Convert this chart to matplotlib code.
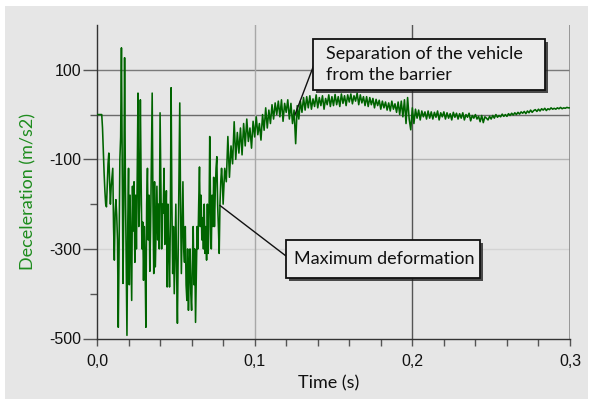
import numpy as np
import matplotlib
matplotlib.use('Agg')
import matplotlib.pyplot as plt
import matplotlib.patheffects as pe
from matplotlib.patches import Rectangle
from matplotlib.ticker import FixedLocator, FuncFormatter

plt.rcParams['axes.unicode_minus'] = False

# crash record, dense part: 0.0 - 0.0795 s, one value every 0.5 ms
dt_fast = 0.0005
decel_fast = [
    0, 0, 0, 0, 0, 0, 0, -30, -80, -130,
    -170, -200, -206, -160, -110, -86, -150, -200, -160, -140,
    -120, -250, -325, -220, -190, -225, -280, -475, -300, -100,
    -50, 149, -100, -377, -200, 127, -150, -320, -493, -250,
    -120, -380, -180, -300, -415, -160, -260, -150, -330, -180,
    -300, -140, 48, -250, -200, 33, -150, -300, -240, -370,
    -250, -330, -475, -200, -120, -280, -180, -350, -250, -100,
    48, -200, -355, -150, -340, -250, -160, -280, -200, -300,
    4, -150, -300, -200, -220, -120, -290, -250, -170, -385,
    -200, -300, -385, -250, 60, -200, -355, -250, -400, -300,
    -200, -350, -466, -300, -150, 26, -200, -355, -250, -150,
    -300, -330, -250, -380, -415, -300, -437, -350, -300, -400,
    -437, -330, -250, -380, -300, -464, -350, -250, -300, -200,
    -117, -250, -180, -280, -230, -300, -200, -310, -250, -325,
    -200, -310, -250, -49, -200, -300, -180, -250, -140, -250,
    -175, -120, -94, -200, -250, -310, -200, -150, -120, -150,
]

# after the barrier phase: 0.080 - 0.300 s, one value every 1 ms
dt_slow = 0.001
t_slow0 = 0.080
decel_slow = [
    -200, -120, -150, -49, -140, -70, -110, -16, -100, -40,
    -86, -30, -90, -20, -70, -10, -60, -30, -75, -15,
    -50, -5, -45, -20, -57, 0, -35, 15, -30, 10,
    -20, 22, -10, 26, 0, 30, -5, 33, -15, 25,
    5, 33, -10, 25, -20, 10, -65, 20, -10, 30,
    5, 38, 10, 40, 15, 42, 12, 35, 18, 44,
    15, 38, 20, 42, 12, 36, 22, 44, 18, 40,
    20, 45, 22, 40, 18, 46, 25, 42, 20, 44,
    28, 46, 24, 42, 30, 48, 22, 44, 26, 40,
    20, 40, 18, 38, 22, 36, 15, 34, 20, 32,
    12, 30, 15, 28, 10, 26, 8, 30, 12, 24,
    5, 28, 0, 30, -5, 33, -20, 38, -10, -34,
    15, -20, 12, -8, 10, -12, 8, -5, 6, -10,
    8, -8, 6, -10, 5, -6, 8, -12, 4, -5,
    6, -10, 4, -8, 2, -12, 5, -6, 3, -10,
    2, -8, 4, -12, 0, -6, 3, -14, -2, -8,
    0, -10, -4, -16, -2, -18, -5, -8, -12, -4,
    -10, -2, -8, 0, -6, -2, -5, 1, -4, 0,
    -4, 2, -2, 3, -1, 4, 0, 5, 1, 6,
    3, 7, 2, 8, 4, 10, 5, 9, 11, 7,
    12, 8, 13, 10, 14, 9, 13, 11, 15, 12,
    14, 12, 15, 13, 16, 13, 15, 14, 16, 15,
    15,
]

yticks_major = [100, -100, -300, -500]
yticks_minor = [-400, -200, 0]
xticks_major = [0.0, 0.1, 0.2, 0.3]
xticks_minor = [0.02, 0.04, 0.06, 0.08, 0.12, 0.14, 0.16, 0.18,
                0.22, 0.24, 0.26, 0.28]

note_max = 'Maximum deformation'
note_sep = 'Separation of the vehicle\nfrom the barrier'
point_max = (0.078, -203)
point_sep = (0.1256, 0)

t_fast = np.arange(len(decel_fast)) * dt_fast
t_slow = t_slow0 + np.arange(len(decel_slow)) * dt_slow
t = np.concatenate([t_fast, t_slow])
decel = np.concatenate([decel_fast, decel_slow])

bg = '#e6e6e6'
green = '#006400'
W, H = 590, 399

fig = plt.figure(figsize=(5.9, 3.99), dpi=100, facecolor='white')
# grey panel with thin white margin on top/left
fig.patches.append(Rectangle((5 / W, 0), 583 / W, (H - 6) / H,
                             transform=fig.transFigure, fc=bg, ec='none', zorder=-5))

ax = fig.add_axes([97 / W, (H - 338.5) / H, 473 / W, 313.5 / H])
ax.set_zorder(1)
ax.set_facecolor(bg)

# grid lines, each drawn with its own shade
ax.axhline(100, color='#7a7a7a', lw=1.0, zorder=1)
ax.axhline(0, color='#6a6a6a', lw=1.0, zorder=1)
ax.axhline(-100, color='#b4b4b4', lw=1.0, zorder=1)
ax.axhline(-300, color='#d4d4d4', lw=1.0, zorder=1)
ax.axvline(0.1, color='#a8a8a8', lw=1.0, zorder=1)
ax.axvline(0.2, color='#555555', lw=1.0, zorder=1)
ax.axvline(0.3, color='#8a8a8a', lw=1.2, zorder=1)

ax.plot(t, decel, color=green, lw=1.15, zorder=3)

ax.set_xlim(0, 0.3)
ax.set_ylim(-500, 200)

for s in ['top', 'right']:
    ax.spines[s].set_visible(False)
for s in ['left', 'bottom']:
    ax.spines[s].set_color('#333333')
    ax.spines[s].set_linewidth(1.0)

ax.yaxis.set_major_locator(FixedLocator(yticks_major))
ax.yaxis.set_minor_locator(FixedLocator(yticks_minor))
ax.xaxis.set_major_locator(FixedLocator(xticks_major))
ax.xaxis.set_minor_locator(FixedLocator(xticks_minor))
ax.xaxis.set_major_formatter(FuncFormatter(lambda v, p: '{:.1f}'.format(v).replace('.', ',')))
ax.tick_params(axis='y', which='major', length=10, width=1.0, color='#555555', pad=1)
ax.tick_params(axis='y', which='minor', length=5, width=1.0, color='#555555')
ax.tick_params(axis='x', which='both', length=5, width=1.0, color='#555555', pad=6)
for lab in ax.get_xticklabels() + ax.get_yticklabels():
    lab.set_fontfamily('Liberation Sans')
    lab.set_fontsize(11.5)
    lab.set_color('#111111')

fig.text(28 / W, 1 - 192 / H, 'Deceleration (m/s2)', rotation=90, color='#1e8c1e',
         family='Lato', fontsize=13, ha='center', va='center')
fig.text(329 / W, 1 - 383 / H, 'Time (s)', color='#111111',
         family='Lato', fontsize=13, ha='center', va='center')

shadow = [pe.SimplePatchShadow(offset=(2, -2), shadow_rgbFace='#222222', alpha=0.8), pe.Normal()]


def callout(x0, y0, x1, y1, text, tx, anchor_px, target):
    # box in figure pixels (top-left origin), text, and leader line to the curve
    r = Rectangle((x0 / W, 1 - y1 / H), (x1 - x0) / W, (y1 - y0) / H,
                  transform=fig.transFigure, fc='#ebebeb', ec='#111111', lw=1.3, zorder=5)
    r.set_path_effects(shadow)
    fig.patches.append(r)
    fig.text(tx / W, 1 - (y0 + y1) / 2 / H, text, family='Lato', fontsize=13,
             color='#111111', ha='left', va='center', linespacing=1.35, zorder=6)
    ax.annotate('', xy=target, xycoords='data',
                xytext=(anchor_px[0] / W, 1 - anchor_px[1] / H), textcoords='figure fraction',
                arrowprops=dict(arrowstyle='-', color='#111111', lw=1.0,
                                shrinkA=0, shrinkB=0), zorder=4)


callout(313, 39, 545, 90, note_sep, 326, (315, 62), point_sep)
callout(286, 240, 480, 278, note_max, 294, (286, 256), point_max)

fig.savefig('out.png', dpi=100, facecolor=fig.get_facecolor())
